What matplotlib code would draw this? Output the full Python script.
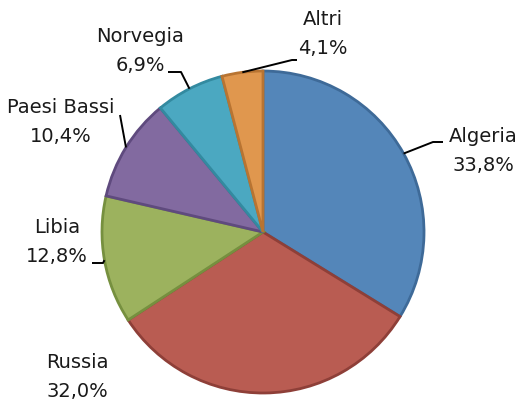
import numpy as np
import matplotlib
matplotlib.use("Agg")
import matplotlib.pyplot as plt

# Quote per paese di provenienza (%)
paesi = ["Algeria", "Russia", "Libia", "Paesi Bassi", "Norvegia", "Altri"]
quote = [33.8, 32.0, 12.8, 10.4, 6.9, 4.1]
etichette = ["33,8%", "32,0%", "12,8%", "10,4%", "6,9%", "4,1%"]

colori = ["#5486B9", "#B95C52", "#9CB25E", "#826AA0", "#4BA8C1", "#E0974E"]
bordi = ["#3E6A98", "#8E3F38", "#76903F", "#5F4A7E", "#338AA0", "#B87432"]

W, H, DPI = 519, 403, 100
CX, CY, R = 263, 232, 161  # centre and radius in pixels


def px(x, y):
    """Pixel position -> data coordinates (pie radius = 1)."""
    return (x - CX) / R, (CY - y) / R


fig = plt.figure(figsize=(W / DPI, H / DPI), dpi=DPI)
ax = fig.add_axes([0, 0, 1, 1])

wedges, _ = ax.pie(quote, colors=colori, startangle=90, counterclock=False,
                   radius=1.0, center=(0, 0), frame=True,
                   wedgeprops=dict(linewidth=2.0))
for w, c in zip(wedges, bordi):
    w.set_edgecolor(c)
ax.set_xlim((0 - CX) / R, (W - CX) / R)
ax.set_ylim((CY - H) / R, CY / R)
ax.set_aspect("auto")
ax.axis("off")

# label block centres and leader-line elbows (pixel positions)
pos_testo = {
    "Algeria": (483, 151),
    "Russia": (77, 377),
    "Libia": (57, 242),
    "Paesi Bassi": (61, 122),
    "Norvegia": (140, 51),
    "Altri": (323, 34),
}
gomiti = {
    "Algeria": [(433, 142), (443, 142)],
    "Libia": [(103, 263), (92, 263)],
    "Paesi Bassi": [(120, 115)],
    "Norvegia": [(181, 72), (168, 72)],
    "Altri": [(292, 60), (297, 60)],
}

cum = 0.0
for nome, q, lab in zip(paesi, quote, etichette):
    mid = cum + q / 2
    cum += q
    ang = np.deg2rad(90 - 360 * mid / 100)
    if nome in gomiti:
        xs = [np.cos(ang)] + [px(*p)[0] for p in gomiti[nome]]
        ys = [np.sin(ang)] + [px(*p)[1] for p in gomiti[nome]]
        ax.plot(xs, ys, color="black", lw=1.4, solid_capstyle="butt")
    tx, ty = px(*pos_testo[nome])
    ax.text(tx, ty, f"{nome}\n{lab}", ha="center", va="center",
            fontsize=14, color="#1a1a1a", linespacing=1.7,
            family="DejaVu Sans")

fig.savefig("out.png", dpi=DPI)
